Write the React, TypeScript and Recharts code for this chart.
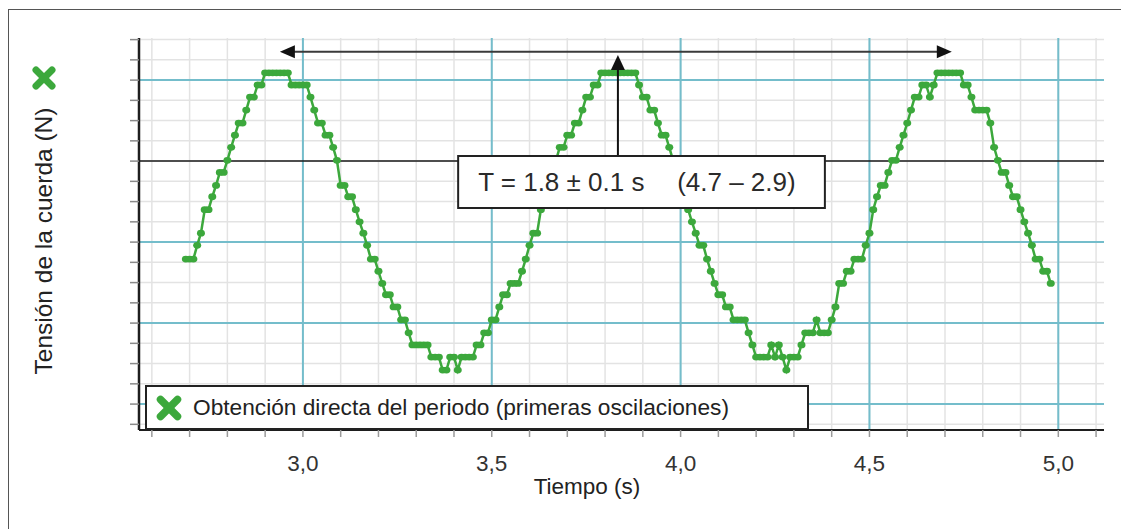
import React from 'react';
import {
  LineChart,
  Line,
  XAxis,
  YAxis,
  CartesianGrid,
  ReferenceLine,
  ReferenceArea,
  Legend,
} from 'recharts';

// Sampling of the force sensor
const START_TIME = 2.69; // s
const SAMPLE_STEP = 0.01; // s

// Rope tension readings (N), one per sample
const tension = [
  -1.21, -1.21, -1.21, -1.04, -0.89, -0.6, -0.6, -0.44, -0.3, -0.14,
  -0.14, 0.01, 0.17, 0.32, 0.47, 0.47, 0.63, 0.79, 0.79, 0.94,
  0.94, 1.09, 1.09, 1.09, 1.09, 1.09, 1.09, 1.09, 0.94, 0.94,
  0.94, 0.94, 0.94, 0.79, 0.63, 0.47, 0.47, 0.32, 0.32, 0.17,
  0.01, -0.3, -0.3, -0.44, -0.44, -0.6, -0.75, -0.89, -1.04, -1.21,
  -1.21, -1.36, -1.51, -1.65, -1.65, -1.8, -1.8, -1.96, -1.96, -2.12,
  -2.27, -2.27, -2.27, -2.27, -2.27, -2.42, -2.42, -2.42, -2.58, -2.58,
  -2.42, -2.42, -2.58, -2.42, -2.42, -2.42, -2.42, -2.27, -2.27, -2.12,
  -2.12, -1.96, -1.96, -1.8, -1.65, -1.65, -1.51, -1.51, -1.51, -1.36,
  -1.21, -1.04, -0.89, -0.89, -0.6, -0.44, -0.3, -0.14, 0.01, 0.17,
  0.17, 0.32, 0.32, 0.47, 0.47, 0.63, 0.79, 0.79, 0.94, 0.94,
  1.09, 1.09, 1.09, 1.09, 1.09, 1.09, 1.09, 1.09, 1.09, 1.09,
  0.94, 0.79, 0.79, 0.63, 0.63, 0.47, 0.32, 0.32, 0.17, 0.01,
  -0.14, -0.3, -0.44, -0.6, -0.75, -0.89, -1.04, -1.04, -1.21, -1.36,
  -1.51, -1.65, -1.65, -1.8, -1.8, -1.96, -1.96, -1.96, -1.96, -2.12,
  -2.27, -2.42, -2.42, -2.42, -2.42, -2.27, -2.42, -2.27, -2.42, -2.58,
  -2.42, -2.42, -2.42, -2.27, -2.12, -2.12, -2.12, -1.96, -2.12, -2.12,
  -2.12, -1.96, -1.8, -1.51, -1.51, -1.36, -1.36, -1.21, -1.21, -1.21,
  -1.04, -0.89, -0.6, -0.44, -0.3, -0.3, -0.14, 0.01, 0.01, 0.17,
  0.32, 0.47, 0.63, 0.79, 0.79, 0.94, 0.94, 0.79, 0.94, 1.09,
  1.09, 1.09, 1.09, 1.09, 1.09, 1.09, 0.94, 0.94, 0.79, 0.63,
  0.63, 0.63, 0.63, 0.47, 0.17, 0.01, -0.14, -0.14, -0.3, -0.44,
  -0.44, -0.6, -0.75, -0.89, -1.04, -1.21, -1.21, -1.36, -1.36, -1.51,
];

// Axes
const X_DOMAIN: [number, number] = [2.566, 5.121];
const Y_DOMAIN: [number, number] = [-3.32, 1.52];
const xMinorTicks = [
  2.6, 2.7, 2.8, 2.9, 3.0, 3.1, 3.2, 3.3, 3.4, 3.5, 3.6, 3.7, 3.8,
  3.9, 4.0, 4.1, 4.2, 4.3, 4.4, 4.5, 4.6, 4.7, 4.8, 4.9, 5.0, 5.1,
];
const xMajorTicks = [3.0, 3.5, 4.0, 4.5, 5.0];
const yMinorTicks = [
  1.5, 1.25, 1.0, 0.75, 0.5, 0.25, 0, -0.25, -0.5, -0.75, -1.0, -1.25,
  -1.5, -1.75, -2.0, -2.25, -2.5, -2.75, -3.0, -3.25,
];
const yMajorTicks = [1.0, -1.0, -2.0, -3.0];

// Period annotation: T measured between the first and third maxima
const periodStart = 2.939;
const periodEnd = 4.718;
const periodArrowLevel = 1.35;
const peakMark = 3.834;
const noteBox = { x1: 3.411, x2: 4.382, y1: -0.579, y2: 0.063 };
const noteMain = 'T = 1.8 ± 0.1 s';
const noteSub = '(4.7 – 2.9)';

const seriesName = 'Obtención directa del periodo (primeras oscilaciones)';
const xTitle = 'Tiempo (s)';
const yTitle = 'Tensión de la cuerda (N)';

const GREEN = '#3ca83c';
const FONT = '"Liberation Sans", Arial, Helvetica, sans-serif';

const data = tension.map((v, i) => ({
  t: Math.round((START_TIME + i * SAMPLE_STEP) * 100) / 100,
  v,
}));

const isMajorX = (v: number) => xMajorTicks.some((m) => Math.abs(m - v) < 1e-6);

const XMark = ({ cx, cy, d = 8.5, w = 7 }: { cx: number; cy: number; d?: number; w?: number }) => (
  <g stroke={GREEN} strokeWidth={w} strokeLinecap="round">
    <line x1={cx - d} y1={cy - d} x2={cx + d} y2={cy + d} />
    <line x1={cx - d} y1={cy + d} x2={cx + d} y2={cy - d} />
  </g>
);

const renderDot = (p: any) => (
  <ellipse key={`d-${p.index}`} cx={p.cx} cy={p.cy} rx={4} ry={3.4} fill={GREEN} />
);

const DoubleArrow = (p: any) => {
  const { x1, y1, x2, y2 } = p;
  const L = 15;
  const W = 6.5;
  return (
    <g>
      <line x1={x1 + L - 1} y1={y1} x2={x2 - L + 1} y2={y2} stroke="#3a3a3a" strokeWidth={2} />
      <polygon points={`${x1},${y1} ${x1 + L},${y1 - W} ${x1 + L},${y1 + W}`} fill="#111" />
      <polygon points={`${x2},${y2} ${x2 - L},${y2 - W} ${x2 - L},${y2 + W}`} fill="#111" />
    </g>
  );
};

const UpArrow = (p: any) => {
  const { x1, y1, x2, y2 } = p;
  const L = 15;
  const W = 7;
  return (
    <g>
      <line x1={x1} y1={y1} x2={x2} y2={y2 + L - 1} stroke="#111" strokeWidth={2} />
      <polygon points={`${x2},${y2} ${x2 - W},${y2 + L} ${x2 + W},${y2 + L}`} fill="#111" />
    </g>
  );
};

const NoteLabel = (p: any) => {
  const vb = p.viewBox || { x: 0, y: 0 };
  return (
    <g fontFamily={FONT} fontSize={26} fill="#2a2a2a">
      <text x={vb.x + 20} y={vb.y + 35}>{noteMain}</text>
      <text x={vb.x + 219} y={vb.y + 35}>{noteSub}</text>
    </g>
  );
};

const XTitle = () => (
  <text x={587} y={494} textAnchor="middle" fontFamily={FONT} fontSize={22.5} fill="#222">
    {xTitle}
  </text>
);

const YTitle = () => (
  <g>
    <text
      transform="translate(52,241) rotate(-90)"
      textAnchor="middle"
      fontFamily={FONT}
      fontSize={24.5}
      fill="#222"
    >
      {yTitle}
    </text>
    <XMark cx={44} cy={78} d={8} w={7} />
  </g>
);

const LegendBox = () => (
  <div
    style={{
      width: 664,
      height: 45,
      boxSizing: 'border-box',
      border: '2px solid #222',
      background: '#fff',
      display: 'flex',
      alignItems: 'center',
    }}
  >
    <svg width={46} height={41} style={{ flex: 'none' }}>
      <XMark cx={22} cy={21} d={8.5} w={7.5} />
    </svg>
    <span style={{ fontFamily: FONT, fontSize: 22.7, color: '#222', whiteSpace: 'nowrap' }}>
      {seriesName}
    </span>
  </div>
);

export default function App() {
  return (
    <div
      style={{
        position: 'absolute',
        left: 0,
        top: 0,
        width: 1121,
        height: 529,
        overflow: 'hidden',
        background: '#fff',
      }}
    >
      <div
        style={{
          position: 'absolute',
          left: 8,
          top: 9,
          width: 1300,
          height: 700,
          borderTop: '1.5px solid #555',
          borderLeft: '1.5px solid #555',
        }}
      />
      <div style={{ position: 'absolute', left: 0, top: 0 }}>
        <LineChart
          width={1121}
          height={529}
          data={data}
          margin={{ top: 38, right: 17, bottom: 59, left: 129 }}
        >
          <CartesianGrid
            stroke="#e3e3e3"
            strokeWidth={1.5}
            verticalValues={xMinorTicks}
            horizontalValues={yMinorTicks}
          />
          <CartesianGrid
            stroke="#74bdcb"
            strokeWidth={2}
            verticalValues={xMajorTicks}
            horizontalValues={yMajorTicks}
          />
          <XAxis
            dataKey="t"
            type="number"
            domain={X_DOMAIN}
            ticks={xMinorTicks}
            interval={0}
            allowDataOverflow
            tickFormatter={(v: number) => (isMajorX(v) ? v.toFixed(1).replace('.', ',') : '')}
            axisLine={{ stroke: '#1e1e1e', strokeWidth: 2 }}
            tickLine={{ stroke: '#9a9a9a', strokeWidth: 1.5 }}
            tickSize={7}
            tickMargin={18}
            tick={{ fontSize: 22.5, fill: '#333', fontFamily: FONT }}
            height={40}
            label={{ content: XTitle }}
          />
          <XAxis
            xAxisId="top"
            orientation="top"
            type="number"
            domain={X_DOMAIN}
            allowDataOverflow
            height={0}
            tick={false}
            tickLine={false}
            axisLine={{ stroke: '#2a2a2a', strokeWidth: 2 }}
          />
          <YAxis
            type="number"
            domain={Y_DOMAIN}
            ticks={yMinorTicks}
            interval={0}
            allowDataOverflow
            width={10}
            tickFormatter={() => ''}
            axisLine={{ stroke: '#1e1e1e', strokeWidth: 2.5 }}
            tickLine={{ stroke: '#8a8a8a', strokeWidth: 1.5 }}
            tickSize={9}
            label={{ content: YTitle }}
          />
          <YAxis
            yAxisId="right"
            orientation="right"
            type="number"
            domain={Y_DOMAIN}
            allowDataOverflow
            width={0}
            tick={false}
            tickLine={false}
            axisLine={{ stroke: '#2a2a2a', strokeWidth: 2 }}
          />
          <ReferenceLine y={0} stroke="#1a1a1a" strokeWidth={1.5} zIndex={-50} />
          <Line
            type="linear"
            dataKey="v"
            name={seriesName}
            stroke={GREEN}
            strokeWidth={2.5}
            dot={renderDot}
            activeDot={false}
            isAnimationActive={false}
          />
          <ReferenceLine
            segment={[
              { x: periodStart, y: periodArrowLevel },
              { x: periodEnd, y: periodArrowLevel },
            ]}
            shape={DoubleArrow}
            zIndex={1500}
          />
          <ReferenceLine
            segment={[
              { x: peakMark, y: noteBox.y2 },
              { x: peakMark, y: 1.31 },
            ]}
            shape={UpArrow}
            zIndex={1500}
          />
          <ReferenceArea
            x1={noteBox.x1}
            x2={noteBox.x2}
            y1={noteBox.y1}
            y2={noteBox.y2}
            fill="#fff"
            fillOpacity={1}
            stroke="#222"
            strokeWidth={2}
            zIndex={1500}
            label={NoteLabel}
          />
          <Legend
            layout="vertical"
            align="center"
            verticalAlign="middle"
            width={664}
            height={45}
            wrapperStyle={{ left: 145, top: 385, width: 664, height: 45 }}
            content={LegendBox}
          />
        </LineChart>
      </div>
    </div>
  );
}
